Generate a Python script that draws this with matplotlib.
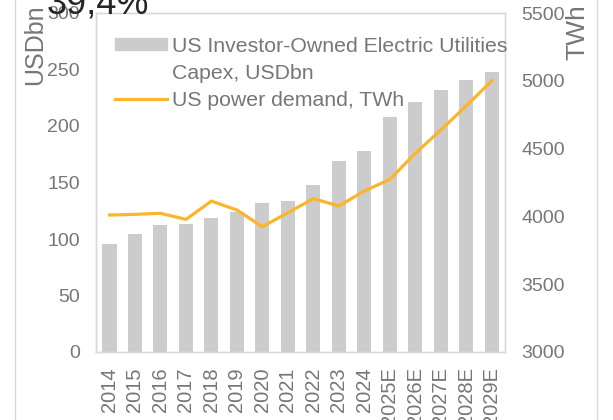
import numpy as np
import matplotlib
matplotlib.use('Agg')
import matplotlib.pyplot as plt
from matplotlib.patches import Patch
from matplotlib.lines import Line2D

plt.rcParams['font.family'] = ['Liberation Sans', 'DejaVu Sans']

# data
years = ['2014', '2015', '2016', '2017', '2018', '2019', '2020', '2021',
         '2022', '2023', '2024', '2025E', '2026E', '2027E', '2028E', '2029E']
capex = [96, 104, 112, 113, 119, 124, 132, 134, 148, 169, 178, 208, 221, 232, 241, 248]
demand = [4010, 4015, 4023, 3978, 4113, 4047, 3924, 4027, 4131, 4077, 4187, 4273,
          4465, 4637, 4815, 5000]

grey_txt = '#767676'
frame = '#d9d9d9'
bar_col = '#cccccc'
line_col = '#fbb52d'

fig = plt.figure(figsize=(6.13, 4.2), dpi=100)
ax = fig.add_axes([96/613, 1-352/420, 409/613, 339/420])
ax2 = ax.twinx()

x = np.arange(len(years))
ax.bar(x, capex, width=0.55, color=bar_col, zorder=2)
ax2.plot(x, demand, color=line_col, linewidth=2.3, zorder=3)

ax.set_xlim(-0.53, len(years) - 0.48)
ax.set_ylim(0, 300)
ax.set_yticks(np.arange(0, 301, 50))
ax2.set_ylim(3000, 5500)
ax2.set_yticks(np.arange(3000, 5501, 500))

ax.set_xticks(x)
ax.set_xticklabels(years, rotation=90)

for a in (ax, ax2):
    for s in a.spines.values():
        s.set_color(frame)
        s.set_linewidth(1.0)
    a.tick_params(length=0, labelsize=14, colors=grey_txt)
ax.tick_params(axis='y', pad=11.5)
ax.tick_params(axis='x', pad=11, labelsize=14.5)
ax2.tick_params(axis='y', pad=12)

# axis titles
fig.text(35/613, 1-45/420, 'USDbn', rotation=90, ha='center', va='center',
         fontsize=18, color=grey_txt)
fig.text(577/613, 1-32/420, 'TWh', rotation=90, ha='center', va='center',
         fontsize=19, color=grey_txt)

# cut-off headline value at the top
fig.text(47/613, 1-13/420, '39,4%', ha='left', va='baseline',
         fontsize=26, color='#262626')

# outer chart frame lines
fig.add_artist(Line2D([15/613, 15/613], [0, 1], color=frame, linewidth=1.0))
fig.add_artist(Line2D([597/613, 597/613], [0, 1], color=frame, linewidth=1.0))

# legend: the bar label wraps onto a second line, handle sits on the first line
handles = [Patch(color=bar_col),
           Patch(alpha=0),
           Line2D([0], [0], color=line_col, linewidth=2.3)]
labels = ['US Investor-Owned Electric Utilities', 'Capex, USDbn', 'US power demand, TWh']
leg = ax2.legend(handles, labels, loc='upper left', bbox_to_anchor=(0.0465, 0.93),
                 frameon=False, fontsize=15.3, handlelength=2.45, handleheight=0.5,
                 handletextpad=0.25, borderpad=0, borderaxespad=0, labelspacing=0.38)
for t in leg.get_texts():
    t.set_color(grey_txt)

fig.savefig('out.png', dpi=100)
